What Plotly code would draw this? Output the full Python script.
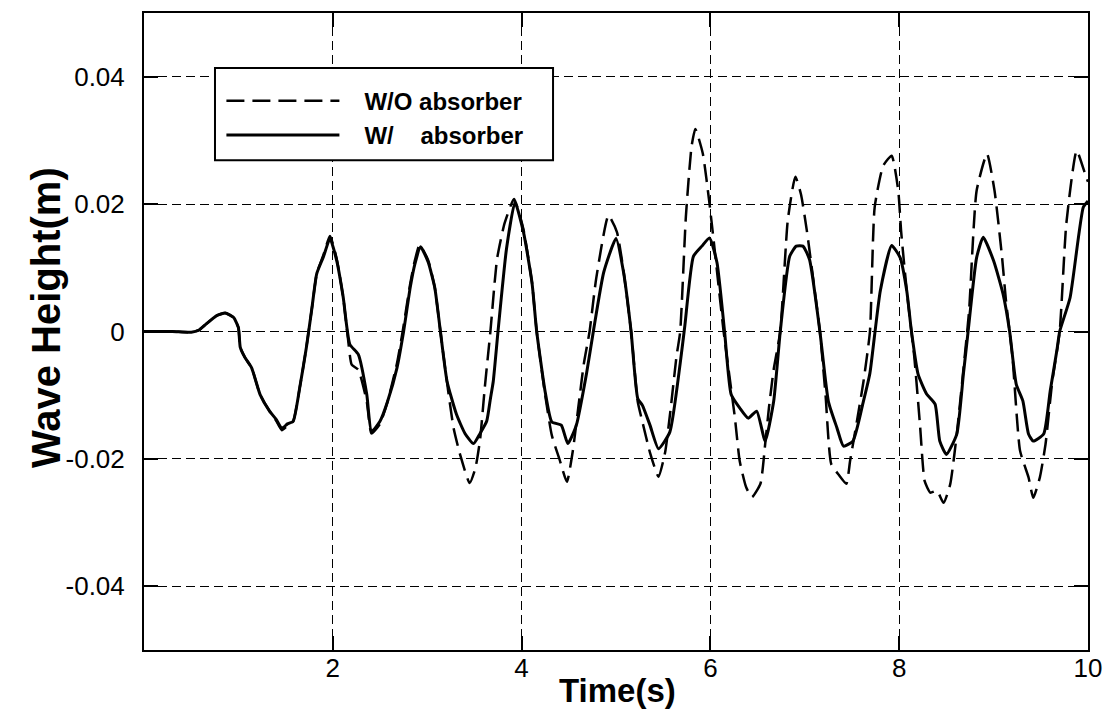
import plotly.graph_objects as go

# ---- data ----
t_with = [0.00, 0.30, 0.50, 0.58, 0.66, 0.77, 0.86, 0.95, 1.00, 1.02, 1.07, 1.14, 1.23, 1.33, 1.40, 1.46,
          1.52, 1.58, 1.65, 1.72, 1.78, 1.83, 1.90, 1.97, 2.04, 2.11, 2.18, 2.27, 2.36, 2.41, 2.50, 2.58,
          2.68, 2.75, 2.82, 2.87, 2.93, 3.01, 3.08, 3.14, 3.21, 3.31, 3.40, 3.49, 3.56, 3.63, 3.67, 3.70,
          3.75, 3.84, 3.93, 4.02, 4.11, 4.16, 4.25, 4.32, 4.42, 4.49, 4.58, 4.69, 4.76, 4.87, 5.00, 5.08,
          5.16, 5.23, 5.28, 5.36, 5.45, 5.57, 5.68, 5.73, 5.82, 5.91, 5.99, 6.07, 6.15, 6.22, 6.31, 6.40,
          6.49, 6.58, 6.67, 6.74, 6.84, 6.91, 6.98, 7.05, 7.16, 7.25, 7.34, 7.41, 7.51, 7.62, 7.69, 7.74,
          7.80, 7.92, 8.01, 8.08, 8.13, 8.20, 8.29, 8.38, 8.43, 8.50, 8.61, 8.68, 8.73, 8.82, 8.89, 9.00,
          9.10, 9.17, 9.24, 9.31, 9.37, 9.42, 9.53, 9.60, 9.67, 9.70, 9.81, 9.95, 10.00]
h_with = [0.0000, 0.0000, -0.0001, 0.0002, 0.0012, 0.0025, 0.0029, 0.0022, 0.0006, -0.0025, -0.0041,
          -0.0057, -0.0099, -0.0125, -0.0138, -0.0152, -0.0145, -0.0141, -0.0088, -0.0025, 0.0038, 0.0091,
          0.0117, 0.0146, 0.0112, 0.0054, -0.0020, -0.0036, -0.0099, -0.0157, -0.0141, -0.0110, -0.0057,
          0.0000, 0.0069, 0.0106, 0.0133, 0.0109, 0.0069, 0.0000, -0.0078, -0.0130, -0.0160, -0.0176,
          -0.0160, -0.0141, -0.0105, -0.0078, 0.0000, 0.0130, 0.0203, 0.0156, 0.0077, 0.0000, -0.0095,
          -0.0142, -0.0147, -0.0176, -0.0147, -0.0064, 0.0000, 0.0093, 0.0146, 0.0093, 0.0000, -0.0105,
          -0.0116, -0.0147, -0.0184, -0.0158, -0.0050, 0.0010, 0.0118, 0.0134, 0.0147, 0.0108, 0.0000,
          -0.0099, -0.0120, -0.0136, -0.0125, -0.0172, -0.0110, 0.0000, 0.0118, 0.0134, 0.0134, 0.0113,
          0.0000, -0.0110, -0.0151, -0.0180, -0.0172, -0.0110, -0.0065, -0.0005, 0.0064, 0.0135, 0.0116,
          0.0064, 0.0000, -0.0067, -0.0098, -0.0114, -0.0172, -0.0193, -0.0161, -0.0067, 0.0000, 0.0116,
          0.0148, 0.0111, 0.0059, 0.0000, -0.0083, -0.0109, -0.0161, -0.0172, -0.0161, -0.0093, -0.0030,
          0.0000, 0.0053, 0.0195, 0.0205]

t_without = [0.00, 0.30, 0.50, 0.58, 0.66, 0.77, 0.86, 0.95, 1.00, 1.02, 1.07, 1.14, 1.23, 1.33, 1.40, 1.46,
             1.52, 1.58, 1.65, 1.72, 1.78, 1.83, 1.90, 1.97, 2.04, 2.11, 2.16, 2.20, 2.27, 2.36, 2.41, 2.50,
             2.58, 2.68, 2.74, 2.82, 2.87, 2.92, 3.01, 3.08, 3.14, 3.21, 3.28, 3.35, 3.45, 3.51, 3.56, 3.61,
             3.67, 3.74, 3.82, 3.92, 4.02, 4.11, 4.16, 4.25, 4.32, 4.40, 4.48, 4.54, 4.60, 4.66, 4.72, 4.79,
             4.92, 5.01, 5.08, 5.16, 5.23, 5.28, 5.36, 5.45, 5.52, 5.58, 5.64, 5.68, 5.74, 5.80, 5.84, 5.92,
             5.99, 6.03, 6.14, 6.26, 6.31, 6.38, 6.44, 6.53, 6.58, 6.62, 6.67, 6.74, 6.82, 6.90, 6.96, 7.02,
             7.10, 7.16, 7.22, 7.28, 7.36, 7.44, 7.48, 7.53, 7.62, 7.69, 7.74, 7.83, 7.92, 7.99, 8.02, 8.08,
             8.16, 8.22, 8.27, 8.33, 8.40, 8.47, 8.54, 8.61, 8.68, 8.74, 8.82, 8.93, 9.01, 9.09, 9.13, 9.20,
             9.28, 9.37, 9.42, 9.49, 9.55, 9.62, 9.70, 9.77, 9.88, 9.97, 10.00]
h_without = [0.0000, 0.0000, -0.0001, 0.0002, 0.0012, 0.0025, 0.0029, 0.0022, 0.0006, -0.0025, -0.0041,
             -0.0057, -0.0099, -0.0125, -0.0140, -0.0155, -0.0148, -0.0141, -0.0088, -0.0025, 0.0038,
             0.0091, 0.0120, 0.0150, 0.0115, 0.0054, -0.0010, -0.0052, -0.0060, -0.0110, -0.0160, -0.0145,
             -0.0110, -0.0050, 0.0000, 0.0075, 0.0112, 0.0136, 0.0112, 0.0069, 0.0000, -0.0080, -0.0152,
             -0.0194, -0.0238, -0.0215, -0.0170, -0.0088, 0.0001, 0.0114, 0.0170, 0.0208, 0.0160, 0.0077,
             0.0000, -0.0100, -0.0163, -0.0200, -0.0236, -0.0190, -0.0120, -0.0050, 0.0000, 0.0083, 0.0182,
             0.0156, 0.0095, 0.0000, -0.0110, -0.0142, -0.0190, -0.0228, -0.0190, -0.0120, -0.0040, 0.0000,
             0.0180, 0.0290, 0.0318, 0.0279, 0.0201, 0.0149, 0.0000, -0.0136, -0.0203, -0.0245, -0.0260,
             -0.0239, -0.0177, -0.0120, -0.0060, 0.0000, 0.0175, 0.0243, 0.0215, 0.0160, 0.0070, 0.0000,
             -0.0100, -0.0208, -0.0225, -0.0239, -0.0203, -0.0160, -0.0080, 0.0000, 0.0195, 0.0260, 0.0276,
             0.0221, 0.0158, 0.0064, -0.0040, -0.0146, -0.0235, -0.0253, -0.0250, -0.0269, -0.0240, -0.0161,
             -0.0060, 0.0032, 0.0221, 0.0279, 0.0221, 0.0116, 0.0050, -0.0040, -0.0187, -0.0229, -0.0261,
             -0.0229, -0.0177, -0.0080, 0.0000, 0.0169, 0.0284, 0.0247, 0.0235]

x_ticks = [2, 4, 6, 8, 10]
x_tick_labels = ["2", "4", "6", "8", "10"]
y_ticks = [-0.04, -0.02, 0, 0.02, 0.04]
y_tick_labels = ["-0.04", "-0.02", "0", "0.02", "0.04"]
series_names = ["\u00a0\u00a0\u00a0W/O absorber", "\u00a0\u00a0\u00a0W/\u00a0\u00a0\u00a0 absorber"]

FONT = "Liberation Sans, Arial, sans-serif"

fig = go.Figure()
fig.add_trace(go.Scatter(x=t_without, y=h_without, mode="lines", name=series_names[0],
                         line=dict(color="black", width=2.5, dash="18px,8px", shape="spline", smoothing=0.5)))
fig.add_trace(go.Scatter(x=t_with, y=h_with, mode="lines", name=series_names[1],
                         line=dict(color="black", width=3, shape="spline", smoothing=0.5)))

axis_common = dict(
    ticks="inside", ticklen=14, tickwidth=2, tickcolor="black",
    showline=True, linewidth=2, linecolor="black", mirror="ticks",
    showgrid=True, gridcolor="black", gridwidth=1, griddash="9px,5px",
    zeroline=False, tickfont=dict(family=FONT, size=26, color="black"),
)
fig.update_xaxes(range=[0, 10], tickvals=x_ticks, ticktext=x_tick_labels, ticklabelstandoff=-6, **axis_common)
fig.update_yaxes(range=[-0.05, 0.05], tickvals=y_ticks, ticktext=y_tick_labels, ticklabelstandoff=12, **axis_common)

fig.update_layout(
    width=1115, height=715,
    margin=dict(l=144, r=27, t=13, b=65),
    plot_bgcolor="white", paper_bgcolor="white",
    showlegend=True,
    legend=dict(x=0.082, y=0.897, xanchor="left", yanchor="top",
                bgcolor="rgba(0,0,0,0)", borderwidth=0, itemwidth=113,
                tracegroupgap=0,
                font=dict(family=FONT, size=24, color="black", weight="bold")),
    shapes=[dict(type="rect", xref="paper", yref="paper", x0=0.0752, x1=0.4333, y0=0.769, y1=0.9137,
                 line=dict(color="black", width=2), fillcolor="white", layer="above")],
    annotations=[
        dict(text="<b>Time(s)</b>", xref="paper", yref="paper", x=(617 - 144) / 944, y=(650 - 690) / 637,
             xanchor="center", yanchor="middle", showarrow=False,
             font=dict(family=FONT, size=33, color="black")),
        dict(text="<b>Wave Height(m)</b>", xref="paper", yref="paper", x=(46 - 144) / 944, y=(650 - 318) / 637,
             xanchor="center", yanchor="middle", showarrow=False, textangle=-90,
             font=dict(family=FONT, size=40, color="black")),
    ],
)

fig.write_html("out.html")
